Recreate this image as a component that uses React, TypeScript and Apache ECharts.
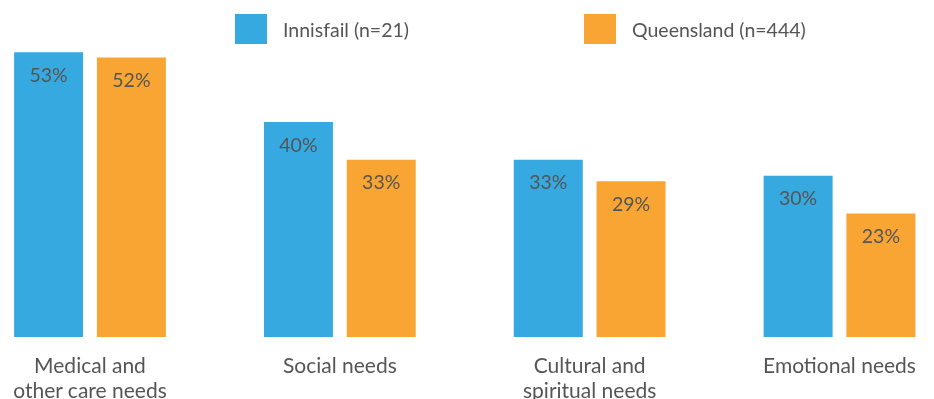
import React, { useEffect, useRef } from "react";
import * as echarts from "echarts";

const categories = ["Medical and\nother care needs", "Social needs", "Cultural and\nspiritual needs", "Emotional needs"];
const innisfail = [53, 40, 33, 30];
const queensland = [52, 33, 29, 23];
const seriesNames = ["Innisfail (n=21)", "Queensland (n=444)"];
const colors = ["#36a9e0", "#f9a533"];

export default function App() {
  const ref = useRef<HTMLDivElement>(null);
  useEffect(() => {
    if (!ref.current) return;
    const chart = echarts.init(ref.current, undefined, { renderer: "svg" });
    const font = "Lato, 'Noto Sans', sans-serif";
    const label = {
      show: true,
      position: "insideTop",
      distance: 12,
      formatter: "{c}%",
      color: "#555555",
      fontSize: 19.5,
      fontFamily: font,
    };
    const legendBase = {
      top: 14,
      itemWidth: 32,
      itemHeight: 30,
      itemGap: 0,
      padding: 0,
      icon: "rect",
      textStyle: { color: "#555555", fontSize: 19.5, fontFamily: font, padding: [0, 0, 0, 11] },
    };
    chart.setOption({
      animation: false,
      legend: [
        { ...legendBase, data: [seriesNames[0]], left: 235 },
        { ...legendBase, data: [seriesNames[1]], left: 584 },
      ],
      grid: {
        left: 90,
        right: 94.5,
        top: 14.5,
        bottom: 62,
        containLabel: false,
        outerBoundsMode: "none",
      },
      xAxis: {
        type: "category",
        data: categories,
        boundaryGap: false,
        axisLine: { show: false },
        axisTick: { show: false },
        splitLine: { show: false },
        axisLabel: {
          color: "#555555",
          fontSize: 21,
          fontFamily: font,
          lineHeight: 25,
          margin: 15,
          interval: 0,
        },
      },
      yAxis: { type: "value", min: 0, max: 60, show: false, splitLine: { show: false } },
      series: [
        {
          name: seriesNames[0],
          type: "bar",
          data: innisfail,
          barWidth: 69,
          barGap: "20%",
          itemStyle: { color: colors[0] },
          label,
        },
        {
          name: seriesNames[1],
          type: "bar",
          data: queensland,
          barWidth: 69,
          barGap: "20%",
          itemStyle: { color: colors[1] },
          label,
        },
      ],
    });
    return () => chart.dispose();
  }, []);
  return <div ref={ref} style={{ position: "fixed", left: 0, top: 0, width: 934, height: 399 }} />;
}
